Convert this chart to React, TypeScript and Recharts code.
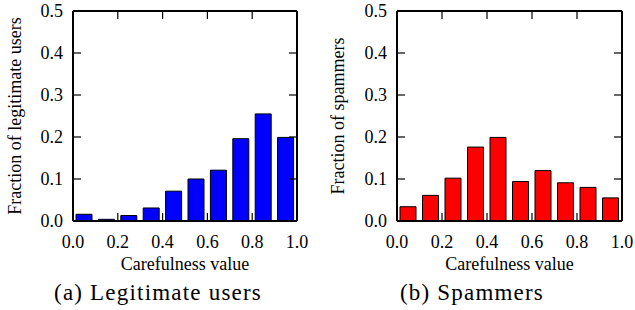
import { BarChart, Bar, XAxis, YAxis } from 'recharts';

// bin centres on the carefulness axis
const binCenters = [0.05, 0.15, 0.25, 0.35, 0.45, 0.55, 0.65, 0.75, 0.85, 0.95];
// fraction per bin
const legitFractions = [0.016, 0.004, 0.013, 0.031, 0.071, 0.1, 0.121, 0.196, 0.255, 0.199];
const spamFractions = [0.034, 0.061, 0.102, 0.176, 0.199, 0.094, 0.12, 0.091, 0.08, 0.055];

const xTicks = [0, 0.2, 0.4, 0.6, 0.8, 1];
const yTicks = [0, 0.1, 0.2, 0.3, 0.4, 0.5];
const innerXTicks = [0.2, 0.4, 0.6, 0.8];
const innerYTicks = [0.1, 0.2, 0.3, 0.4];

const FONT = '"Liberation Serif", "Times New Roman", "DejaVu Serif", serif';
const fmt = (v: number) => v.toFixed(1);
const noLabel = () => <g />;

type PanelProps = {
  values: number[];
  color: string;
  yLabel: string;
  caption: string;
  left: number;
  width: number;
  rightMargin: number;
  axisWidth: number;
  labelOffset: number;
  captionWidth: number;
};

const Panel = ({ values, color, yLabel, caption, left, width, rightMargin, axisWidth, labelOffset, captionWidth }: PanelProps) => {
  const data = binCenters.map((x, i) => ({ x, v: values[i] }));
  const frame = { stroke: '#000', strokeWidth: 2 };
  const tickLine = { stroke: '#000', strokeWidth: 1.2 };
  return (
    <div style={{ position: 'absolute', left, top: 0 }}>
      <BarChart
        width={width}
        height={275}
        data={data}
        margin={{ top: 11, right: rightMargin, left: 0, bottom: 5 }}
      >
        <Bar
          xAxisId="main"
          yAxisId="main"
          dataKey="v"
          fill={color}
          stroke="#000"
          strokeWidth={1}
          barSize={16}
          isAnimationActive={false}
        />
        <XAxis
          xAxisId="main"
          type="number"
          dataKey="x"
          domain={[0, 1]}
          allowDataOverflow
          ticks={xTicks}
          tickFormatter={fmt}
          axisLine={false}
          tickLine={false}
          tickSize={0}
          tickMargin={14}
          height={49}
          tick={{ fill: '#000', fontSize: 18, fontFamily: FONT }}
          label={{ value: 'Carefulness value', position: 'insideBottom', offset: 0, fill: '#000', fontSize: 18, fontFamily: FONT }}
        />
        <XAxis
          xAxisId="bottomFrame"
          type="number"
          dataKey="x"
          domain={[0, 1]}
          allowDataOverflow
          ticks={innerXTicks}
          mirror
          tick={noLabel}
          tickSize={8}
          tickLine={tickLine}
          axisLine={frame}
        />
        <XAxis
          xAxisId="topFrame"
          orientation="top"
          type="number"
          dataKey="x"
          domain={[0, 1]}
          allowDataOverflow
          ticks={innerXTicks}
          mirror
          tick={noLabel}
          tickSize={8}
          tickLine={tickLine}
          axisLine={frame}
        />
        <YAxis
          yAxisId="main"
          type="number"
          domain={[0, 0.5]}
          allowDataOverflow
          ticks={yTicks}
          tickFormatter={fmt}
          width={axisWidth}
          axisLine={false}
          tickLine={false}
          tickSize={0}
          tickMargin={10}
          tick={{ fill: '#000', fontSize: 18, fontFamily: FONT }}
          label={{
            value: yLabel,
            angle: -90,
            position: 'insideLeft',
            offset: labelOffset,
            fill: '#000',
            fontSize: 18,
            fontFamily: FONT,
            style: { textAnchor: 'middle' },
          }}
        />
        <YAxis
          yAxisId="leftFrame"
          type="number"
          domain={[0, 0.5]}
          allowDataOverflow
          ticks={innerYTicks}
          mirror
          tick={noLabel}
          tickSize={8}
          tickLine={tickLine}
          axisLine={frame}
        />
        <YAxis
          yAxisId="rightFrame"
          orientation="right"
          type="number"
          domain={[0, 0.5]}
          allowDataOverflow
          ticks={innerYTicks}
          mirror
          tick={noLabel}
          tickSize={8}
          tickLine={tickLine}
          axisLine={frame}
        />
      </BarChart>
      <div
        style={{
          position: 'absolute',
          left: 0,
          top: 280,
          width: captionWidth,
          textAlign: 'center',
          fontFamily: FONT,
          fontSize: 23,
          letterSpacing: 1.2,
          lineHeight: '26px',
          color: '#000',
          whiteSpace: 'nowrap',
        }}
      >
        {caption}
      </div>
    </div>
  );
};

export default function App() {
  return (
    <div style={{ position: 'absolute', left: 0, top: 0, width: 635, height: 310, background: '#fff', overflow: 'hidden' }}>
      <Panel
        values={legitFractions}
        color="#0000ff"
        yLabel="Fraction of legitimate users"
        caption="(a) Legitimate users"
        left={0}
        width={315}
        rightMargin={18}
        axisWidth={73}
        labelOffset={15}
        captionWidth={316}
      />
      <Panel
        values={spamFractions}
        color="#ff0000"
        yLabel="Fraction of spammers"
        caption="(b) Spammers"
        left={320}
        width={315}
        rightMargin={13}
        axisWidth={77}
        labelOffset={18}
        captionWidth={304}
      />
    </div>
  );
}
